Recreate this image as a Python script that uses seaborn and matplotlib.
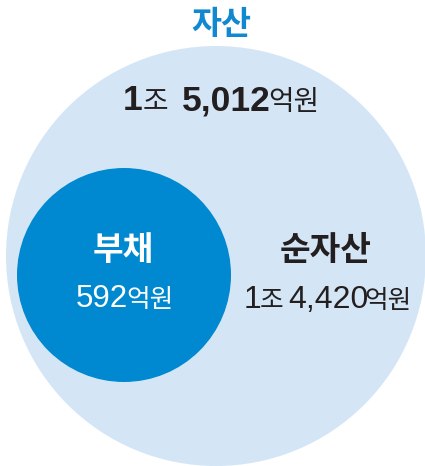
import matplotlib
matplotlib.use("Agg")
import matplotlib.pyplot as plt
from matplotlib.patches import Circle
from matplotlib.textpath import TextPath
from matplotlib.font_manager import FontProperties
import seaborn as sns

# ---- data ----
categories = ["자산", "부채", "순자산"]
jo_values = [1, 0, 1]           # 조 units
eok_values = [5012, 592, 4420]  # 억 units

# ---- style ----
sns.set_theme(style="white")
plt.rcParams['font.family'] = ['Noto Sans CJK KR', 'DejaVu Sans']

DPI = 100
LIGHT = "#D4E6F5"
DARK = "#0089D0"
TITLE = "#1189D0"
INK = "#231F20"
NUM_FONT = ['Liberation Sans', 'DejaVu Sans']
KR_FONT = ['Noto Sans CJK KR', 'DejaVu Sans']

fig = plt.figure(figsize=(4.25, 4.66), dpi=DPI)
ax = fig.add_axes([0, 0, 1, 1])
ax.set_xlim(0, 425)
ax.set_ylim(466, 0)
ax.axis("off")

# circles (layout in pixel coordinates)
ax.add_patch(Circle((216, 256), 210, color=LIGHT, lw=0))
ax.add_patch(Circle((124, 275), 107, color=DARK, lw=0))


def kr(size, weight="regular"):
    return dict(family=KR_FONT, size=size, weight=weight)


def num(size, weight):
    return dict(family=NUM_FONT, size=size, weight=weight)


def amount_runs(jo, eok, num_size, kr_size, num_weight):
    runs = []
    if jo:
        runs.append((f"{jo}", num(num_size, num_weight)))
        runs.append(("조", kr(kr_size)))
    runs.append((f"{eok:,}", num(num_size, num_weight)))
    runs.append(("억원", kr(kr_size)))
    return runs


def ink_extent(s, props):
    fp = FontProperties(family=props["family"], weight=props["weight"])
    tp = TextPath((0, 0), s, size=props["size"] * DPI / 72, prop=fp)
    ext = tp.get_extents()
    return ext.x0, ext.x1


def draw_runs(cx, baseline, runs, gaps, color):
    exts = [ink_extent(s, p) for s, p in runs]
    widths = [x1 - x0 for x0, x1 in exts]
    total = sum(widths) + sum(gaps)
    x = cx - total / 2
    for i, ((s, props), (x0, x1)) in enumerate(zip(runs, exts)):
        ax.text(x - x0, baseline, s, ha="left", va="baseline", color=color, **props)
        x += (x1 - x0) + (gaps[i] if i < len(gaps) else 0)


# 자산 (total assets)
draw_runs(221, 34, [(categories[0], kr(23.5, "bold"))], [], TITLE)
draw_runs(220.5, 110, amount_runs(jo_values[0], eok_values[0], 25.5, 20, "bold"),
          [3, 16, 1], INK)

# 부채 (liabilities)
draw_runs(122.5, 260, [(categories[1], kr(24, "bold"))], [], "white")
draw_runs(124, 307, amount_runs(jo_values[1], eok_values[1], 22.5, 18.5, "regular"),
          [2], "white")

# 순자산 (net assets)
draw_runs(326, 260, [(categories[2], kr(24, "bold"))], [], INK)
draw_runs(327.5, 308, amount_runs(jo_values[2], eok_values[2], 23, 18.5, "regular"),
          [2, 6, 0], INK)

fig.savefig("out.png", dpi=DPI)
